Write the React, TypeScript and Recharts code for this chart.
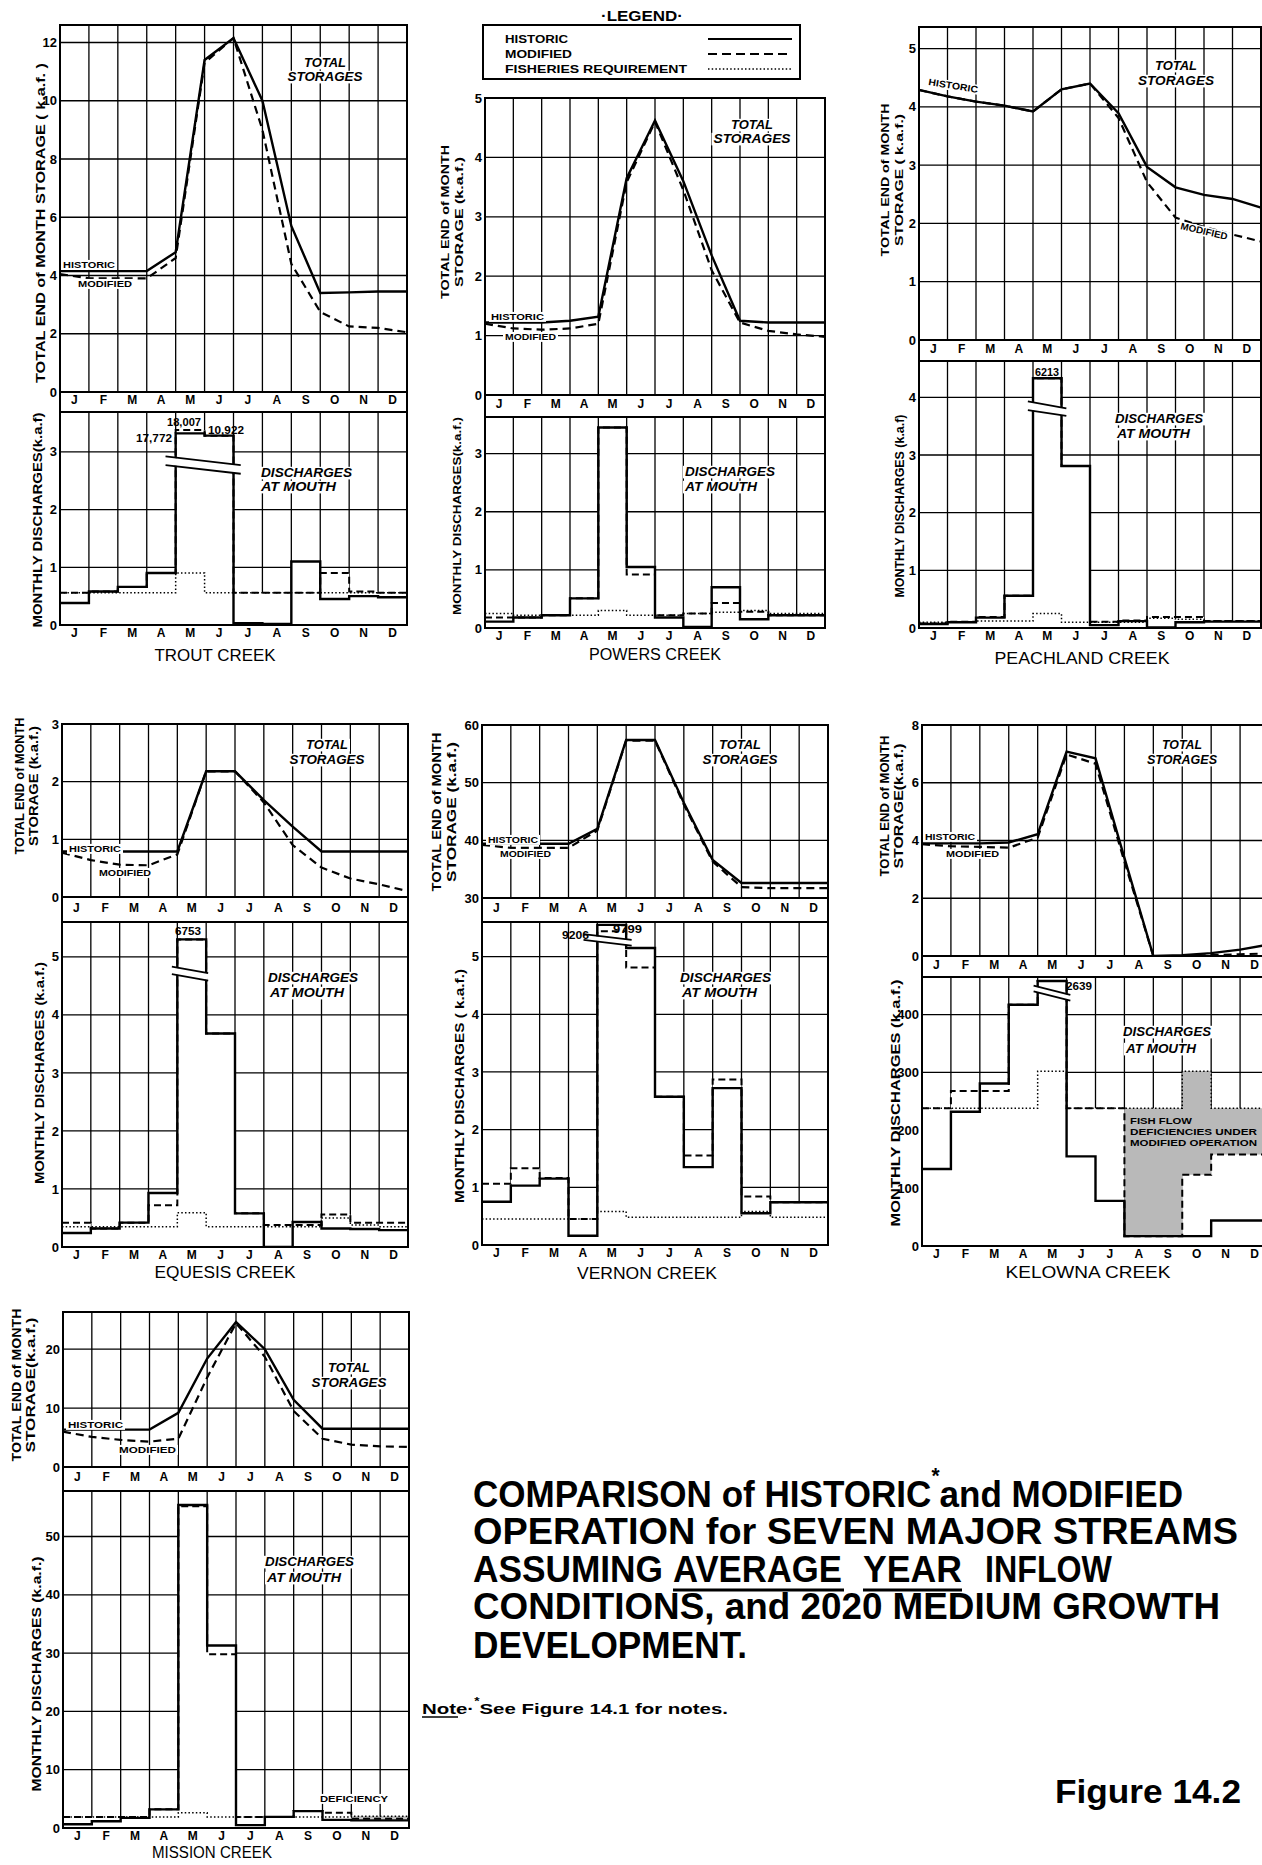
import React from 'react';
import { ComposedChart, Line, Area, XAxis, YAxis, CartesianGrid, ReferenceLine } from 'recharts';

const FONT = "'Liberation Sans', Arial, Helvetica, sans-serif";
const TITLE_FONT = "'Liberation Sans', Arial, sans-serif";

// ---------- categories / ticks ----------
const MONTHS = ['J', 'F', 'M', 'A', 'M', 'J', 'J', 'A', 'S', 'O', 'N', 'D'];
const TROUT_S_TICKS = [0, 2, 4, 6, 8, 10, 12];
const TROUT_D_TICKS = [0, 1, 2, 3];
const POWERS_S_TICKS = [0, 1, 2, 3, 4, 5];
const POWERS_D_TICKS = [0, 1, 2, 3];
const PEACH_S_TICKS = [0, 1, 2, 3, 4, 5];
const PEACH_D_TICKS = [0, 1, 2, 3, 4];
const EQUESIS_S_TICKS = [0, 1, 2, 3];
const EQUESIS_D_TICKS = [0, 1, 2, 3, 4, 5];
const VERNON_S_TICKS = [30, 40, 50, 60];
const VERNON_D_TICKS = [0, 1, 2, 3, 4, 5];
const KELOWNA_S_TICKS = [0, 2, 4, 6, 8];
const KELOWNA_D_TICKS = [0, 100, 200, 300, 400];
const MISSION_S_TICKS = [0, 10, 20];
const MISSION_D_TICKS = [0, 10, 20, 30, 40, 50];

// ---------- Trout Creek ----------
const troutStorageHistoric = [4.15, 4.15, 4.15, 4.15, 4.8, 11.4, 12.15, 10.0, 5.7, 3.4, 3.42, 3.45, 3.45];
const troutStorageModified = [4.05, 3.9, 3.9, 3.9, 4.6, 11.3, 12.15, 9.0, 4.4, 2.75, 2.25, 2.2, 2.05];
const troutDischargeHistoric = [0.38, 0.58, 0.66, 0.9, 3.32, 3.28, 0.03, 0.02, 1.1, 0.45, 0.5, 0.48];
const troutDischargeModified = [0.56, 0.58, 0.66, 0.9, 3.38, 3.28, 0.56, 0.56, 0.56, 0.9, 0.58, 0.56];
const troutFisheries = [0.56, 0.56, 0.56, 0.56, 0.9, 0.56, 0.56, 0.56, 0.56, 0.56, 0.56, 0.56];

// ---------- Powers Creek ----------
const powersStorageHistoric = [1.22, 1.22, 1.22, 1.25, 1.32, 3.65, 4.62, 3.6, 2.35, 1.25, 1.22, 1.22, 1.22];
const powersStorageModified = [1.2, 1.12, 1.1, 1.12, 1.2, 3.58, 4.6, 3.45, 2.1, 1.22, 1.08, 1.02, 0.98];
const powersDischargeHistoric = [0.11, 0.18, 0.22, 0.51, 3.45, 1.05, 0.18, 0.02, 0.7, 0.15, 0.22, 0.22];
const powersDischargeModified = [0.18, 0.18, 0.22, 0.51, 3.45, 0.92, 0.22, 0.25, 0.43, 0.28, 0.22, 0.22];
const powersFisheries = [0.25, 0.22, 0.22, 0.22, 0.3, 0.22, 0.22, 0.25, 0.27, 0.3, 0.25, 0.25];

// ---------- Peachland Creek ----------
const peachStorageHistoric = [4.29, 4.18, 4.09, 4.02, 3.92, 4.3, 4.4, 3.89, 2.97, 2.62, 2.49, 2.42, 2.27];
const peachStorageModified = [4.29, 4.18, 4.09, 4.02, 3.92, 4.3, 4.4, 3.81, 2.71, 2.1, 1.94, 1.81, 1.69];
const peachDischargeHistoric = [0.07, 0.1, 0.18, 0.56, 4.33, 2.81, 0.05, 0.12, 0.01, 0.1, 0.11, 0.11];
const peachDischargeModified = [0.08, 0.11, 0.19, 0.56, 4.33, 2.81, 0.11, 0.13, 0.19, 0.19, 0.12, 0.12];
const peachFisheries = [0.1, 0.1, 0.12, 0.12, 0.25, 0.1, 0.1, 0.1, 0.17, 0.15, 0.12, 0.12];

// ---------- Equesis Creek ----------
const equesisStorageHistoric = [0.79, 0.79, 0.79, 0.79, 0.79, 2.18, 2.18, 1.68, 1.22, 0.79, 0.79, 0.79, 0.79];
const equesisStorageModified = [0.77, 0.64, 0.56, 0.55, 0.74, 2.18, 2.18, 1.64, 0.9, 0.51, 0.32, 0.22, 0.1];
const equesisDischargeHistoric = [0.24, 0.32, 0.42, 0.93, 5.3, 3.68, 0.58, 0.0, 0.43, 0.32, 0.31, 0.29];
const equesisDischargeModified = [0.42, 0.32, 0.42, 0.72, 5.3, 3.68, 0.58, 0.38, 0.38, 0.56, 0.42, 0.42];
const equesisFisheries = [0.35, 0.35, 0.35, 0.35, 0.59, 0.35, 0.35, 0.35, 0.35, 0.5, 0.38, 0.35];

// ---------- Vernon Creek ----------
const vernonStorageHistoric = [39.4, 39.4, 39.4, 39.4, 42.0, 57.4, 57.4, 46.5, 36.6, 32.6, 32.6, 32.6, 32.6];
const vernonStorageModified = [39.2, 38.7, 38.7, 38.7, 41.7, 57.3, 57.3, 46.2, 36.3, 31.9, 31.7, 31.7, 31.7];
const vernonDischargeHistoric = [0.75, 1.03, 1.15, 0.16, 5.55, 5.15, 2.57, 1.35, 2.72, 0.55, 0.74, 0.74];
const vernonDischargeModified = [1.06, 1.33, 1.16, 0.45, 5.44, 4.81, 2.57, 1.55, 2.87, 0.84, 0.74, 0.74];
const vernonFisheries = [0.45, 0.45, 0.45, 0.45, 0.58, 0.48, 0.48, 0.48, 0.48, 0.58, 0.48, 0.48];

// ---------- Kelowna Creek ----------
const kelownaStorageHistoric = [3.9, 3.9, 3.9, 3.93, 4.22, 7.08, 6.85, 3.4, 0.0, 0.03, 0.1, 0.22, 0.4];
const kelownaStorageModified = [3.87, 3.8, 3.78, 3.75, 4.1, 6.98, 6.66, 3.27, 0.0, 0.0, 0.03, 0.06, 0.09];
const kelownaDischargeHistoric = [133, 232, 281, 417, 458, 155, 78, 17, 17, 17, 44, 44];
const kelownaDischargeModified = [238, 268, 268, 417, 458, 238, 238, 17, 17, 123, 158, 158];
const kelownaFisheries = [238, 238, 238, 238, 302, 238, 238, 238, 238, 302, 238, 238];

// ---------- Mission Creek ----------
const missionStorageHistoric = [6.35, 6.35, 6.35, 6.35, 9.2, 18.4, 24.6, 20.0, 11.4, 6.5, 6.5, 6.5, 6.5];
const missionStorageModified = [6.0, 5.1, 4.6, 4.3, 4.8, 15.2, 24.4, 18.7, 9.5, 4.8, 3.8, 3.5, 3.4];
const missionDischargeHistoric = [0.64, 1.15, 1.73, 3.2, 55.4, 31.3, 0.5, 1.9, 2.9, 1.4, 1.3, 1.3];
const missionDischargeModified = [1.9, 1.9, 1.9, 3.2, 55.2, 29.8, 1.9, 1.9, 2.9, 2.6, 1.6, 1.6];
const missionFisheries = [1.9, 1.9, 1.9, 1.9, 2.6, 1.9, 1.9, 1.9, 1.9, 1.9, 2.0, 2.0];

// off-scale peak labels
const troutPeakLabels = ['18,007', '17,772', '10,922'];
const peachPeakLabels = ['6213'];
const equesisPeakLabels = ['6753'];
const vernonPeakLabels = ['9206', '9799'];
const kelownaPeakLabels = ['2639'];

const EDGES = Array.from({ length: 13 }, (_, i) => i);
const CENTERS = Array.from({ length: 12 }, (_, i) => i + 0.5);

type Brk = { x1: number; x2: number; a1: number; a2: number; b1: number; b2: number };
type Panel = {
  id: string;
  x: number; w: number;
  sTop: number; sBottom: number; dTop: number; dBottom: number;
  sDomain: [number, number]; sTicks: number[];
  dDomain: [number, number]; dTicks: number[];
  sHist: number[]; sMod: number[];
  dHist: number[]; dMod: number[]; dFish: number[];
  shade?: boolean;
  brk?: Brk;
};

const panels: Panel[] = [
  { id: 'trout', x: 60, w: 347, sTop: 25, sBottom: 392, dTop: 412, dBottom: 625,
    sDomain: [0, 12.6], sTicks: TROUT_S_TICKS, dDomain: [0, 3.69], dTicks: TROUT_D_TICKS,
    sHist: troutStorageHistoric, sMod: troutStorageModified,
    dHist: troutDischargeHistoric, dMod: troutDischargeModified, dFish: troutFisheries,
    brk: { x1: 3.65, x2: 6.25, a1: 2.92, a2: 2.77, b1: 2.77, b2: 2.62 } },
  { id: 'powers', x: 485, w: 340, sTop: 98, sBottom: 395, dTop: 417, dBottom: 628,
    sDomain: [0, 5], sTicks: POWERS_S_TICKS, dDomain: [0, 3.63], dTicks: POWERS_D_TICKS,
    sHist: powersStorageHistoric, sMod: powersStorageModified,
    dHist: powersDischargeHistoric, dMod: powersDischargeModified, dFish: powersFisheries },
  { id: 'peach', x: 919, w: 342, sTop: 27, sBottom: 340, dTop: 361, dBottom: 628,
    sDomain: [0, 5.37], sTicks: PEACH_S_TICKS, dDomain: [0, 4.63], dTicks: PEACH_D_TICKS,
    sHist: peachStorageHistoric, sMod: peachStorageModified,
    dHist: peachDischargeHistoric, dMod: peachDischargeModified, dFish: peachFisheries,
    brk: { x1: 3.82, x2: 5.17, a1: 3.93, a2: 3.81, b1: 3.78, b2: 3.68 } },
  { id: 'equesis', x: 62, w: 346, sTop: 724, sBottom: 897, dTop: 922, dBottom: 1247,
    sDomain: [0, 3], sTicks: EQUESIS_S_TICKS, dDomain: [0, 5.6], dTicks: EQUESIS_D_TICKS,
    sHist: equesisStorageHistoric, sMod: equesisStorageModified,
    dHist: equesisDischargeHistoric, dMod: equesisDischargeModified, dFish: equesisFisheries,
    brk: { x1: 3.81, x2: 5.07, a1: 4.83, a2: 4.72, b1: 4.7, b2: 4.59 } },
  { id: 'vernon', x: 482, w: 346, sTop: 725, sBottom: 898, dTop: 922, dBottom: 1245,
    sDomain: [30, 60], sTicks: VERNON_S_TICKS, dDomain: [0, 5.6], dTicks: VERNON_D_TICKS,
    sHist: vernonStorageHistoric, sMod: vernonStorageModified,
    dHist: vernonDischargeHistoric, dMod: vernonDischargeModified, dFish: vernonFisheries,
    brk: { x1: 3.52, x2: 5.19, a1: 5.39, a2: 5.29, b1: 5.29, b2: 5.19 } },
  { id: 'kelowna', x: 922, w: 347, sTop: 725, sBottom: 956, dTop: 977, dBottom: 1246,
    sDomain: [0, 8], sTicks: KELOWNA_S_TICKS, dDomain: [0, 465], dTicks: KELOWNA_D_TICKS,
    sHist: kelownaStorageHistoric, sMod: kelownaStorageModified,
    dHist: kelownaDischargeHistoric, dMod: kelownaDischargeModified, dFish: kelownaFisheries,
    shade: true,
    brk: { x1: 3.86, x2: 5.13, a1: 450, a2: 434, b1: 440, b2: 424 } },
  { id: 'mission', x: 63, w: 346, sTop: 1312, sBottom: 1467, dTop: 1491, dBottom: 1828,
    sDomain: [0, 26.3], sTicks: MISSION_S_TICKS, dDomain: [0, 57.8], dTicks: MISSION_D_TICKS,
    sHist: missionStorageHistoric, sMod: missionStorageModified,
    dHist: missionDischargeHistoric, dMod: missionDischargeModified, dFish: missionFisheries,
    shade: true },
];

const L = 34;
const R = 6;
const T = 10;
const tickStyle = { fontSize: 13, fontWeight: 700, fill: '#000', fontFamily: FONT };
const monthStyle = { fontSize: 12, fontWeight: 700, fill: '#000', fontFamily: FONT };
const monthFmt = (v: number) => MONTHS[Math.floor(v)] ?? '';

function StorageChart({ p }: { p: Panel }) {
  const stripH = p.dTop - p.sBottom;
  const plotH = p.sBottom - p.sTop;
  const data = p.sHist.map((h, i) => ({ x: i, hist: h, mod: p.sMod[i] }));
  return (
    <div style={{ position: 'absolute', left: p.x - L, top: p.sTop - T }}>
      <ComposedChart width={L + p.w + R} height={T + plotH + stripH} data={data}
        margin={{ top: T, right: R, bottom: 0, left: 0 }}>
        <XAxis xAxisId="m" type="number" dataKey="x" domain={[0, 12]} ticks={CENTERS} interval={0}
          tickFormatter={monthFmt} axisLine={false} tickLine={false} tickSize={0} tickMargin={Math.max(3, (stripH - 13) / 2)}
          height={stripH} tick={monthStyle} />
        <XAxis xAxisId="grid" type="number" dataKey="x" domain={[0, 12]} ticks={EDGES} hide height={0} />
        <YAxis type="number" domain={p.sDomain} ticks={p.sTicks} interval={0} width={L}
          axisLine={false} tickLine={false} tickSize={0} tickMargin={3} allowDataOverflow tick={tickStyle} />
        <CartesianGrid xAxisId="grid" stroke="#000" strokeWidth={1.3} />
        <Line xAxisId="m" dataKey="hist" type="linear" stroke="#000" strokeWidth={2.4} dot={false}
          activeDot={false} isAnimationActive={false} />
        <Line xAxisId="m" dataKey="mod" type="linear" stroke="#000" strokeWidth={2.2} strokeDasharray="8 5"
          dot={false} activeDot={false} isAnimationActive={false} />
      </ComposedChart>
    </div>
  );
}

function DischargeChart({ p }: { p: Panel }) {
  const plotH = p.dBottom - p.dTop;
  const bottomH = 20;
  const data = EDGES.map((i) => {
    const k = Math.min(i, 11);
    const hv = p.dHist[k];
    const mv = p.dMod[k];
    const fv = p.dFish[k];
    return {
      x: i, hist: hv, mod: mv, fish: fv, cover: Math.max(hv, mv),
      def: p.shade && fv > mv + 1e-9 ? [mv, fv] : null,
    };
  });
  const ppu = plotH / (p.dDomain[1] - p.dDomain[0]);
  const b = p.brk;
  return (
    <div style={{ position: 'absolute', left: p.x - L, top: p.dTop - T }}>
      <ComposedChart width={L + p.w + R} height={T + plotH + bottomH} data={data}
        margin={{ top: T, right: R, bottom: 0, left: 0 }}>
        <XAxis xAxisId="m" type="number" dataKey="x" domain={[0, 12]} ticks={CENTERS} interval={0}
          tickFormatter={monthFmt} axisLine={false} tickLine={false} tickSize={0} tickMargin={3}
          height={bottomH} tick={monthStyle} />
        <XAxis xAxisId="grid" type="number" dataKey="x" domain={[0, 12]} ticks={EDGES} hide height={0} />
        <YAxis type="number" domain={p.dDomain} ticks={p.dTicks} interval={0} width={L}
          axisLine={false} tickLine={false} tickSize={0} tickMargin={3} allowDataOverflow tick={tickStyle} />
        <CartesianGrid xAxisId="grid" stroke="#000" strokeWidth={1.3} />
        <Area xAxisId="m" dataKey="cover" type="stepAfter" stroke="none" fill="#fff" fillOpacity={1}
          isAnimationActive={false} activeDot={false} />
        {p.shade && (
          <Area xAxisId="m" dataKey="def" type="stepAfter" stroke="none" fill="#b9b9b9" fillOpacity={1}
            isAnimationActive={false} activeDot={false} />
        )}
        <Line xAxisId="m" dataKey="fish" type="stepAfter" stroke="#000" strokeWidth={1.5} strokeDasharray="1.5 2.2"
          dot={false} activeDot={false} isAnimationActive={false} />
        <Line xAxisId="m" dataKey="hist" type="stepAfter" stroke="#000" strokeWidth={2.4} dot={false}
          activeDot={false} isAnimationActive={false} />
        <Line xAxisId="m" dataKey="mod" type="stepAfter" stroke="#000" strokeWidth={2.0} strokeDasharray="7 4"
          dot={false} activeDot={false} isAnimationActive={false} />
        {b && (
          <ReferenceLine xAxisId="m" segment={[{ x: b.x1, y: (b.a1 + b.b1) / 2 }, { x: b.x2, y: (b.a2 + b.b2) / 2 }]}
            stroke="#fff" strokeWidth={Math.max(2, (b.a1 - b.b1) * ppu - 1)} ifOverflow="visible" />
        )}
        {b && (
          <ReferenceLine xAxisId="m" segment={[{ x: b.x1, y: b.a1 }, { x: b.x2, y: b.a2 }]}
            stroke="#000" strokeWidth={1.8} ifOverflow="visible" />
        )}
        {b && (
          <ReferenceLine xAxisId="m" segment={[{ x: b.x1, y: b.b1 }, { x: b.x2, y: b.b2 }]}
            stroke="#000" strokeWidth={1.8} ifOverflow="visible" />
        )}
      </ComposedChart>
    </div>
  );
}

function Frame({ p }: { p: Panel }) {
  const base: React.CSSProperties = { position: 'absolute', background: '#000' };
  return (
    <>
      <div style={{ position: 'absolute', left: p.x - 1, top: p.sTop - 1, width: p.w + 2,
        height: p.dBottom - p.sTop + 2, border: '2px solid #000', boxSizing: 'border-box' }} />
      <div style={{ ...base, left: p.x, top: p.sBottom - 1, width: p.w, height: 2 }} />
      <div style={{ ...base, left: p.x, top: p.dTop - 1, width: p.w, height: 2 }} />
    </>
  );
}

type TxtProps = {
  x: number; y: number; text: string; size?: number; weight?: number | string; italic?: boolean;
  anchor?: 'start' | 'middle' | 'end'; len?: number; rot?: number; bg?: boolean; family?: string;
};
function Txt({ x, y, text, size = 11, weight = 700, italic = false, anchor = 'start', len, rot = 0, bg = false, family = FONT }: TxtProps) {
  const w = len ?? text.length * size * 0.6;
  const rx = anchor === 'middle' ? -w / 2 : anchor === 'end' ? -w : 0;
  return (
    <g transform={`translate(${x},${y}) rotate(${rot})`}>
      {bg && <rect x={rx - 2} y={-size * 0.85} width={w + 4} height={size * 1.05} fill="#fff" />}
      <text x={0} y={0} fontSize={size} fontWeight={weight} fontStyle={italic ? 'italic' : 'normal'}
        textAnchor={anchor} fontFamily={family} fill="#000"
        {...(len ? { textLength: len, lengthAdjust: 'spacingAndGlyphs' } : {})}>{text}</text>
    </g>
  );
}

function VTxt({ cx, cy, text, len, size = 12 }: { cx: number; cy: number; text: string; len: number; size?: number }) {
  return (
    <text transform={`translate(${cx + size * 0.36},${cy}) rotate(-90)`} fontSize={size} fontWeight={700}
      fontFamily={FONT} textAnchor="middle" textLength={len} lengthAdjust="spacingAndGlyphs" fill="#000">{text}</text>
  );
}

const TS = { size: 12, italic: true, anchor: 'middle' as const, bg: true };
const DM = { size: 12, italic: true, anchor: 'start' as const, bg: true };
const HM = { size: 9.5, bg: true };
const TT = { size: 37, family: TITLE_FONT, weight: 700 };

function Overlay() {
  return (
    <svg width={1262} height={1865} style={{ position: 'absolute', left: 0, top: 0, pointerEvents: 'none' }}>
      {/* Legend */}
      <Txt x={642} y={21} text="·LEGEND·" size={14} anchor="middle" len={82} />
      <rect x={483} y={25} width={317} height={54} fill="#fff" stroke="#000" strokeWidth={2} />
      <Txt x={505} y={43} text="HISTORIC" size={11} len={63} />
      <Txt x={505} y={58} text="MODIFIED" size={11} len={67} />
      <Txt x={505} y={73} text="FISHERIES REQUIREMENT" size={11} len={182} />
      <line x1={708} x2={792} y1={39} y2={39} stroke="#000" strokeWidth={2} />
      <line x1={708} x2={792} y1={54} y2={54} stroke="#000" strokeWidth={2} strokeDasharray="9 5" />
      <line x1={708} x2={792} y1={69} y2={69} stroke="#000" strokeWidth={1.5} strokeDasharray="1.5 2.2" />

      {/* TOTAL STORAGES */}
      <Txt x={325} y={67} text="TOTAL" len={42} {...TS} />
      <Txt x={325} y={81} text="STORAGES" len={75} {...TS} />
      <Txt x={752} y={129} text="TOTAL" len={42} {...TS} />
      <Txt x={752} y={143} text="STORAGES" len={77} {...TS} />
      <Txt x={1176} y={70} text="TOTAL" len={42} {...TS} />
      <Txt x={1176} y={85} text="STORAGES" len={76} {...TS} />
      <Txt x={327} y={749} text="TOTAL" len={42} {...TS} />
      <Txt x={327} y={764} text="STORAGES" len={75} {...TS} />
      <Txt x={740} y={749} text="TOTAL" len={42} {...TS} />
      <Txt x={740} y={764} text="STORAGES" len={75} {...TS} />
      <Txt x={1182} y={749} text="TOTAL" len={40} {...TS} />
      <Txt x={1182} y={764} text="STORAGES" len={70} {...TS} />
      <Txt x={349} y={1372} text="TOTAL" len={42} {...TS} />
      <Txt x={349} y={1387} text="STORAGES" len={75} {...TS} />

      {/* DISCHARGES AT MOUTH */}
      <Txt x={261} y={477} text="DISCHARGES" len={91} {...DM} />
      <Txt x={261} y={491} text="AT MOUTH" len={75} {...DM} />
      <Txt x={685} y={476} text="DISCHARGES" len={90} {...DM} />
      <Txt x={685} y={491} text="AT MOUTH" len={72} {...DM} />
      <Txt x={1115} y={423} text="DISCHARGES" len={88} {...DM} />
      <Txt x={1117} y={438} text="AT MOUTH" len={73} {...DM} />
      <Txt x={268} y={982} text="DISCHARGES" len={90} {...DM} />
      <Txt x={270} y={997} text="AT MOUTH" len={74} {...DM} />
      <Txt x={680} y={982} text="DISCHARGES" len={91} {...DM} />
      <Txt x={682} y={997} text="AT MOUTH" len={75} {...DM} />
      <Txt x={1123} y={1036} text="DISCHARGES" len={88} {...DM} />
      <Txt x={1126} y={1053} text="AT MOUTH" len={70} {...DM} />
      <Txt x={265} y={1566} text="DISCHARGES" len={89} {...DM} />
      <Txt x={267} y={1582} text="AT MOUTH" len={74} {...DM} />

      {/* HISTORIC / MODIFIED */}
      <Txt x={63} y={268} text="HISTORIC" len={52} {...HM} />
      <Txt x={78} y={287} text="MODIFIED" len={54} {...HM} />
      <Txt x={491} y={320} text="HISTORIC" len={53} {...HM} />
      <Txt x={505} y={340} text="MODIFIED" len={51} {...HM} />
      <Txt x={928} y={85} text="HISTORIC" len={50} rot={9} {...HM} />
      <Txt x={1180} y={229} text="MODIFIED" len={48} rot={13} {...HM} />
      <Txt x={69} y={852} text="HISTORIC" len={52} {...HM} />
      <Txt x={99} y={876} text="MODIFIED" len={52} {...HM} />
      <Txt x={488} y={843} text="HISTORIC" len={50} {...HM} />
      <Txt x={500} y={857} text="MODIFIED" len={51} {...HM} />
      <Txt x={925} y={840} text="HISTORIC" len={50} {...HM} />
      <Txt x={946} y={857} text="MODIFIED" len={53} {...HM} />
      <Txt x={68} y={1428} text="HISTORIC" len={55} {...HM} />
      <Txt x={119} y={1453} text="MODIFIED" len={57} {...HM} />

      {/* off-scale peak values */}
      <Txt x={167} y={426} text={troutPeakLabels[0]} size={10} len={34} />
      <Txt x={136} y={442} text={troutPeakLabels[1]} size={10} len={36} />
      <Txt x={208} y={434} text={troutPeakLabels[2]} size={10} len={36} />
      <Txt x={1035} y={376} text={peachPeakLabels[0]} size={10} len={24} />
      <Txt x={175} y={935} text={equesisPeakLabels[0]} size={10} len={26} />
      <Txt x={562} y={939} text={vernonPeakLabels[0]} size={10} len={27} />
      <Txt x={613} y={933} text={vernonPeakLabels[1]} size={10} len={29} />
      <Txt x={1066} y={990} text={kelownaPeakLabels[0]} size={10} len={26} />

      {/* deficiency notes */}
      <Txt x={1130} y={1124} text="FISH FLOW" size={9} len={62} />
      <Txt x={1130} y={1135} text="DEFICIENCIES UNDER" size={9} len={127} />
      <Txt x={1130} y={1146} text="MODIFIED OPERATION" size={9} len={127} />
      <Txt x={320} y={1802} text="DEFICIENCY" size={9.5} len={68} bg />

      {/* axis titles */}
      <VTxt cx={40} cy={223} text="TOTAL  END  of  MONTH  STORAGE  ( k.a.f. )" len={320} size={13} />
      <VTxt cx={37} cy={520} text="MONTHLY  DISCHARGES(k.a.f)" len={215} size={13} />
      <VTxt cx={445} cy={222} text="TOTAL END of MONTH" len={154} size={11} />
      <VTxt cx={459} cy={222} text="STORAGE (k.a.f.)" len={130} size={11} />
      <VTxt cx={457} cy={516} text="MONTHLY DISCHARGES(k.a.f.)" len={198} size={11} />
      <VTxt cx={885} cy={180} text="TOTAL END of MONTH" len={153} size={11} />
      <VTxt cx={899} cy={180} text="STORAGE ( k.a.f.)" len={132} size={11} />
      <VTxt cx={900} cy={506} text="MONTHLY   DISCHARGES  (k.a.f)" len={183} size={12} />
      <VTxt cx={20} cy={786} text="TOTAL END of MONTH" len={137} size={12} />
      <VTxt cx={34} cy={786} text="STORAGE (k.a.f.)" len={120} size={12} />
      <VTxt cx={40} cy={1073} text="MONTHLY  DISCHARGES  (k.a.f.)" len={222} size={12} />
      <VTxt cx={437} cy={812} text="TOTAL END of MONTH" len={159} size={12} />
      <VTxt cx={452} cy={812} text="STORAGE (k.a.f.)" len={140} size={12} />
      <VTxt cx={460} cy={1086} text="MONTHLY  DISCHARGES  ( k.a.f.)" len={234} size={12} />
      <VTxt cx={885} cy={806} text="TOTAL END of MONTH" len={141} size={12} />
      <VTxt cx={899} cy={806} text="STORAGE(k.a.f.)" len={125} size={12} />
      <VTxt cx={896} cy={1103} text="MONTHLY  DISCHARGES  (k.a.f.)" len={247} size={12} />
      <VTxt cx={17} cy={1385} text="TOTAL END of MONTH" len={153} size={12} />
      <VTxt cx={31} cy={1385} text="STORAGE(k.a.f.)" len={135} size={12} />
      <VTxt cx={37} cy={1674} text="MONTHLY       DISCHARGES  (k.a.f.)" len={235} size={12} />

      {/* creek names */}
      <Txt x={215} y={661} text="TROUT  CREEK" size={16} weight={400} anchor="middle" len={121} />
      <Txt x={655} y={660} text="POWERS  CREEK" size={16} weight={400} anchor="middle" len={132} />
      <Txt x={1082} y={664} text="PEACHLAND  CREEK" size={16} weight={400} anchor="middle" len={175} />
      <Txt x={225} y={1278} text="EQUESIS  CREEK" size={16} weight={400} anchor="middle" len={141} />
      <Txt x={647} y={1279} text="VERNON  CREEK" size={16} weight={400} anchor="middle" len={140} />
      <Txt x={1088} y={1278} text="KELOWNA  CREEK" size={16} weight={400} anchor="middle" len={165} />
      <Txt x={212} y={1858} text="MISSION  CREEK" size={16} weight={400} anchor="middle" len={120} />

      {/* title block */}
      <text x={473} y={1507} fontSize={37} fontWeight={700} fontFamily={TITLE_FONT} fill="#000"
        textLength={710} lengthAdjust="spacingAndGlyphs">
        COMPARISON of HISTORIC<tspan fontSize={22} dy={-24}>*</tspan><tspan dy={24}>and MODIFIED</tspan>
      </text>
      <Txt x={473} y={1544} text="OPERATION for SEVEN MAJOR STREAMS" len={765} {...TT} />
      <Txt x={473} y={1582} text="ASSUMING" len={190} {...TT} />
      <Txt x={673} y={1582} text="AVERAGE" len={169} {...TT} />
      <Txt x={863} y={1582} text="YEAR" len={99} {...TT} />
      <Txt x={985} y={1582} text="INFLOW" len={127} {...TT} />
      <line x1={673} x2={844} y1={1590} y2={1590} stroke="#000" strokeWidth={3} />
      <line x1={863} x2={962} y1={1590} y2={1590} stroke="#000" strokeWidth={3} />
      <Txt x={473} y={1619} text="CONDITIONS, and 2020 MEDIUM GROWTH" len={747} {...TT} />
      <Txt x={473} y={1658} text="DEVELOPMENT." len={274} {...TT} />

      <text x={422} y={1714} fontSize={15} fontWeight={700} fontFamily={FONT} fill="#000"
        textLength={306} lengthAdjust="spacingAndGlyphs">
        Note·<tspan fontSize={10} dy={-9}>*</tspan><tspan dy={9}>See Figure 14.1 for notes.</tspan>
      </text>
      <line x1={422} x2={458} y1={1717} y2={1717} stroke="#000" strokeWidth={1.5} />

      <Txt x={1055} y={1803} text="Figure 14.2" size={34} len={186} />
    </svg>
  );
}

export default function App() {
  return (
    <div style={{ position: 'absolute', left: 0, top: 0, width: 1262, height: 1865, overflow: 'hidden', background: '#fff', fontFamily: FONT }}>
      {panels.map((p) => (
        <React.Fragment key={p.id}>
          <StorageChart p={p} />
          <DischargeChart p={p} />
          <Frame p={p} />
        </React.Fragment>
      ))}
      <Overlay />
    </div>
  );
}
